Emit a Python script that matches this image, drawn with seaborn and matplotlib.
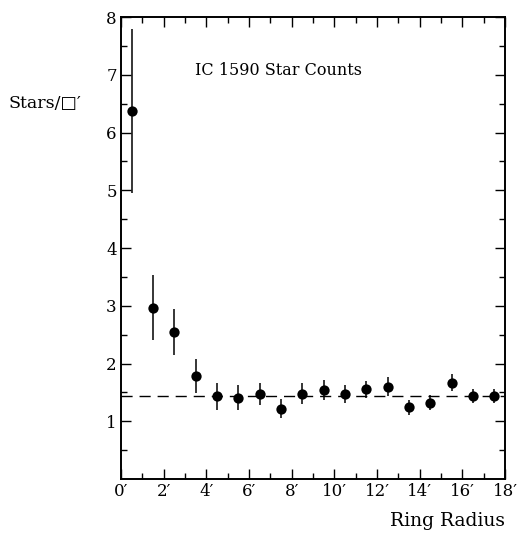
import matplotlib
matplotlib.use("Agg")
import matplotlib.pyplot as plt
import seaborn as sns
import numpy as np
import pandas as pd

# Data
radius = [0.5, 1.5, 2.5, 3.5, 4.5, 5.5, 6.5, 7.5, 8.5, 9.5, 10.5, 11.5, 12.5, 13.5, 14.5, 15.5, 16.5, 17.5]
counts = [6.37, 2.97, 2.55, 1.78, 1.43, 1.41, 1.48, 1.22, 1.48, 1.54, 1.47, 1.55, 1.60, 1.24, 1.32, 1.67, 1.44, 1.43]
errors = [1.42, 0.57, 0.40, 0.29, 0.23, 0.21, 0.19, 0.16, 0.18, 0.17, 0.15, 0.15, 0.16, 0.13, 0.13, 0.15, 0.12, 0.12]
background = 1.43
x_ticks = [0, 2, 4, 6, 8, 10, 12, 14, 16, 18]
x_tick_labels = ["0′", "2′", "4′", "6′", "8′", "10′", "12′", "14′", "16′", "18′"]
y_ticks = [1, 2, 3, 4, 5, 6, 7, 8]
y_tick_labels = ["1", "2", "3", "4", "5", "6", "7", "8"]

df = pd.DataFrame({"radius": radius, "counts": counts, "err": errors})

sns.set_style("ticks")
plt.rcParams["font.family"] = ["DejaVu Serif", "DejaVu Sans"]
plt.rcParams["text.color"] = "black"
plt.rcParams["xtick.color"] = "black"
plt.rcParams["ytick.color"] = "black"
plt.rcParams["axes.labelcolor"] = "black"

fig = plt.figure(figsize=(5.2, 5.35), dpi=100)
ax = fig.add_axes([0.2327, 0.1047, 0.9712 - 0.2327, 0.968 - 0.1047])

ax.errorbar(df["radius"], df["counts"], yerr=df["err"], fmt="none",
            ecolor="black", elinewidth=1.1, capsize=0, zorder=2)
sns.scatterplot(data=df, x="radius", y="counts", ax=ax, color="black",
                s=55, edgecolor="black", linewidth=0, zorder=3, legend=False)
ax.plot([0, 18], [background, background], color="black", lw=1.0,
        dashes=(8, 5), zorder=1)

ax.set_xlim(0, 18)
ax.set_ylim(0, 8)
ax.set_xticks(x_ticks)
ax.set_xticklabels(x_tick_labels, fontsize=12, color="black")
ax.set_yticks(y_ticks)
ax.set_yticklabels(y_tick_labels, fontsize=12, color="black")
ax.set_xticks(np.arange(1, 18, 2), minor=True)
ax.set_yticks(np.arange(0.5, 8, 1.0), minor=True)
ax.tick_params(which="both", direction="in", top=True, right=True, width=1.0, colors="black")
ax.tick_params(which="major", length=7, pad=3)
ax.tick_params(which="minor", length=4)
for s in ax.spines.values():
    s.set_linewidth(1.4)
    s.set_color("black")

ax.set_xlabel("")
ax.set_ylabel("")

ax.text(3.45, 7.08, "IC 1590 Star Counts", fontsize=11.5, va="center", ha="left", color="black")
fig.text(8 / 520, 1 - 104 / 535, "Stars/□′", fontsize=12.5, va="center", ha="left",
         family=["DejaVu Serif", "DejaVu Sans"], color="black")
fig.text(505 / 520, 1 - 521 / 535, "Ring Radius", fontsize=13.5, va="center", ha="right", color="black")

fig.savefig("out.png", dpi=100, facecolor="white")
